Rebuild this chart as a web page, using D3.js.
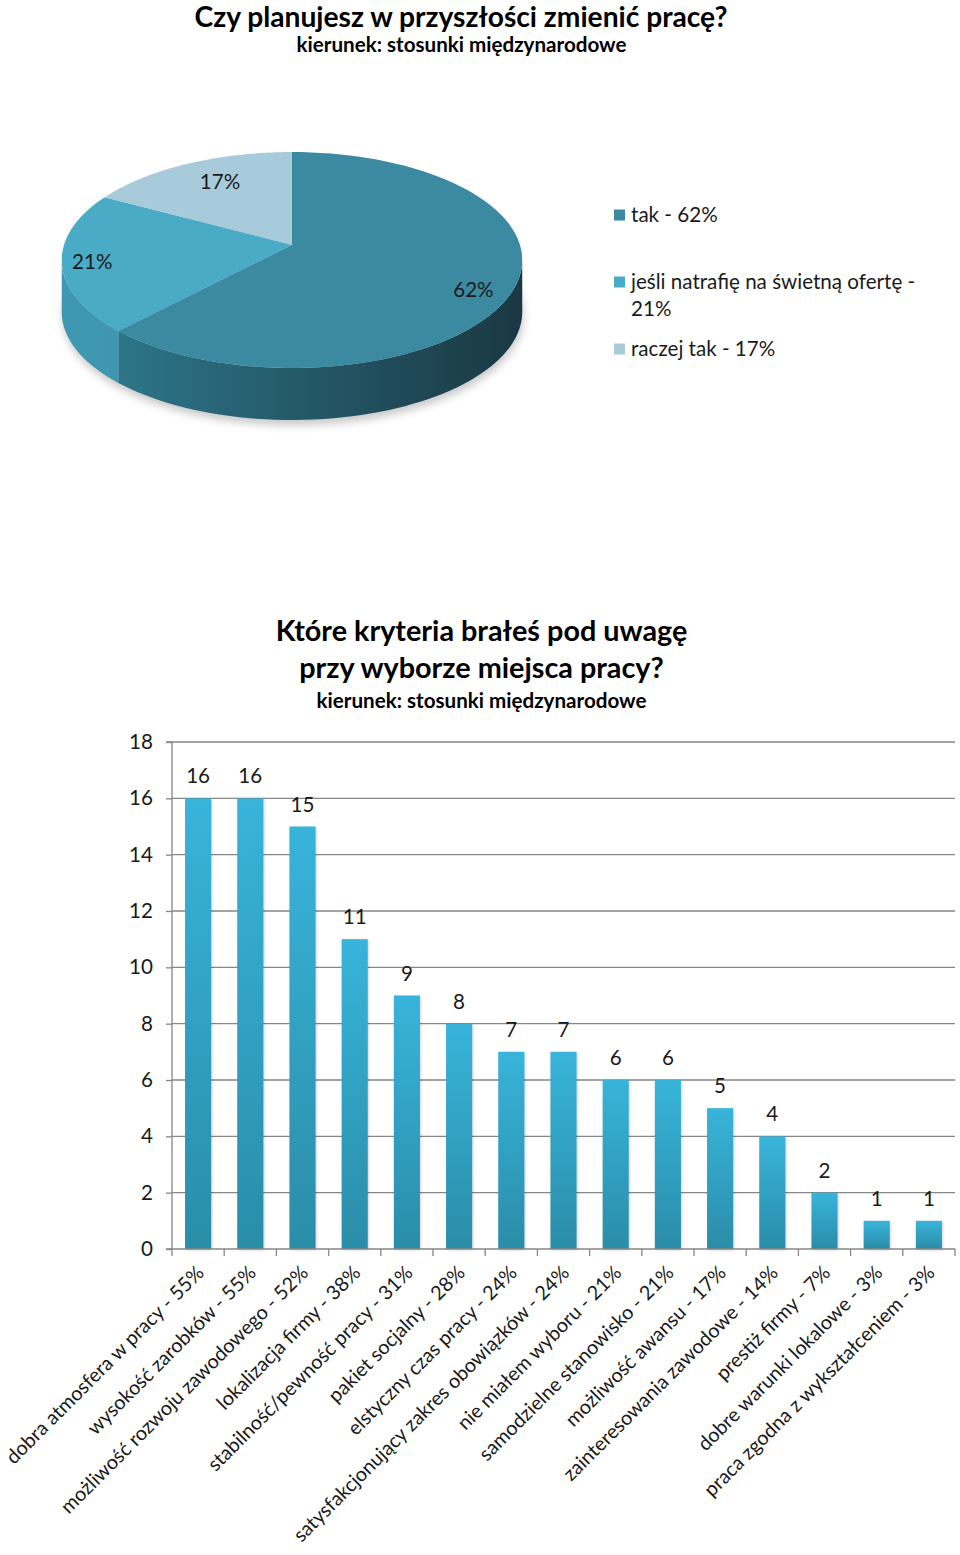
<!DOCTYPE html>
<html><head><meta charset="utf-8">
<script src="https://cdn.jsdelivr.net/npm/d3@7/dist/d3.min.js"></script>
<style>
html,body{margin:0;padding:0;background:#fff;}
svg{display:block;font-family:Lato,"Noto Sans",sans-serif;}
</style></head>
<body>
<svg id="c" width="960" height="1555"></svg>
<script>
// ---------- data ----------
const pieTitle = "Czy planujesz w przyszłości zmienić pracę?";
const subTitle = "kierunek: stosunki międzynarodowe";
const pieLabels = ["tak", "jeśli natrafię na świetną ofertę", "raczej tak"];
const pieValues = [62, 21, 17];

const barTitle = ["Które kryteria brałeś pod uwagę", "przy wyborze miejsca pracy?"];
const barCategories = [
  "dobra atmosfera w pracy - 55%",
  "wysokość zarobków - 55%",
  "możliwość rozwoju zawodowego - 52%",
  "lokalizacja firmy - 38%",
  "stabilność/pewność pracy - 31%",
  "pakiet socjalny - 28%",
  "elstyczny czas pracy - 24%",
  "satysfakcjonujący zakres obowiązków - 24%",
  "nie miałem wyboru - 21%",
  "samodzielne stanowisko - 21%",
  "możliwość awansu - 17%",
  "zainteresowania zawodowe - 14%",
  "prestiż firmy - 7%",
  "dobre warunki lokalowe - 3%",
  "praca zgodna z wykształceniem - 3%"
];
const barValues = [16, 16, 15, 11, 9, 8, 7, 7, 6, 6, 5, 4, 2, 1, 1];
const yTicks = [0, 2, 4, 6, 8, 10, 12, 14, 16, 18];

// ---------- setup ----------
const svg = d3.select("#c");
const defs = svg.append("defs");
const FS = 20.6;

// titles
svg.append("text").attr("x", 461).attr("y", 27).attr("text-anchor", "middle")
  .attr("font-size", 28.2).attr("font-weight", 700).attr("fill", "#000").text(pieTitle);
svg.append("text").attr("x", 461.5).attr("y", 52).attr("text-anchor", "middle")
  .attr("font-size", FS).attr("font-weight", 700).attr("fill", "#000").text(subTitle);

// ---------- 3D pie ----------
const topColors = ["#3b8aa1", "#4aabc7", "#a7cbdb"];
const sideLeft  = ["#2f7d92", "#3f98b1", "#8fb8c8"];
const sideRight = ["#1a3843", "#3a8aa2", "#7fa7b7"];
const cx = 292, cy = 245, A = 228, B = 105.9, K = 0.139, depth = 52;

function proj(theta, f) { // theta clockwise from 12 o'clock, radians
  const u = Math.sin(theta) * f, v = -Math.cos(theta) * f;
  const d = 1 - K * v;
  return [cx + A * u / d, cy + B * v / d];
}
const pie = d3.pie().sort(null).value(d => d)(pieValues);

// shadow
const sh = defs.append("filter").attr("id", "shadow").attr("x", "-20%").attr("y", "-20%").attr("width", "140%").attr("height", "160%");
sh.append("feGaussianBlur").attr("stdDeviation", 4);
const gPie = svg.append("g");
(function(){
  const pts = [];
  for (let t = 0; t <= 360; t += 2) {
    const p = proj(t * Math.PI / 180, 1);
    const vis = t >= 98 && t <= 262;
    pts.push([p[0], p[1] + (vis ? depth + 3 : depth)]);
  }
  gPie.append("path").attr("d", d3.line()(pts) + "Z").attr("fill", "#9a9a9a").attr("opacity", 0.55)
    .attr("filter", "url(#shadow)").attr("transform", "translate(1,2)");
})();

const visA = 98 * Math.PI / 180, visB = 262 * Math.PI / 180;
pie.forEach((s, i) => {
  const a0 = Math.max(s.startAngle, visA), a1 = Math.min(s.endAngle, visB);
  if (a1 <= a0) return;
  const gid = "side" + i;
  const lg = defs.append("linearGradient").attr("id", gid).attr("gradientUnits", "userSpaceOnUse")
    .attr("x1", cx - A).attr("x2", cx + A).attr("y1", 0).attr("y2", 0);
  lg.append("stop").attr("offset", 0).attr("stop-color", sideLeft[i]);
  lg.append("stop").attr("offset", 1).attr("stop-color", sideRight[i]);
  const top = [], bot = [];
  const n = 60;
  for (let k = 0; k <= n; k++) {
    const t = a0 + (a1 - a0) * k / n;
    const p = proj(t, 1);
    top.push(p); bot.push([p[0], p[1] + depth]);
  }
  gPie.append("path").attr("d", d3.line()(top.concat(bot.reverse())) + "Z")
    .attr("fill", `url(#${gid})`);
});
pie.forEach((s, i) => {
  const pts = [[cx, cy]];
  const n = 80;
  for (let k = 0; k <= n; k++) pts.push(proj(s.startAngle + (s.endAngle - s.startAngle) * k / n, 1));
  gPie.append("path").attr("d", d3.line()(pts) + "Z").attr("fill", topColors[i]);
});
// labels
const labelF = [0.82, 0.87, 0.67];
const labelDy = [12, 2, -6];
pie.forEach((s, i) => {
  const p = proj((s.startAngle + s.endAngle) / 2, labelF[i]);
  gPie.append("text").attr("x", p[0]).attr("y", p[1] + labelDy[i] + 7).attr("text-anchor", "middle")
    .attr("font-size", FS).attr("fill", "#1a1a1a").text(pieValues[i] + "%");
});

// legend
const legRows = [
  { lines: [pieLabels[0] + " - " + pieValues[0] + "%"], y: 215 },
  { lines: [pieLabels[1] + " -", pieValues[1] + "%"], y: 282 },
  { lines: [pieLabels[2] + " - " + pieValues[2] + "%"], y: 349 }
];
legRows.forEach((r, i) => {
  svg.append("rect").attr("x", 614).attr("y", r.y - 5.5).attr("width", 11).attr("height", 11).attr("fill", topColors[i]);
  r.lines.forEach((l, j) => {
    svg.append("text").attr("x", 631).attr("y", r.y + 7 + j * 27).attr("font-size", FS).attr("fill", "#1a1a1a").text(l);
  });
});

// ---------- bar chart ----------
barTitle.forEach((t, i) => {
  svg.append("text").attr("x", 481.5).attr("y", 641 + i * 37).attr("text-anchor", "middle")
    .attr("font-size", 28.8).attr("font-weight", 700).attr("fill", "#000").text(t);
});
svg.append("text").attr("x", 481.5).attr("y", 708).attr("text-anchor", "middle")
  .attr("font-size", FS).attr("font-weight", 700).attr("fill", "#000").text(subTitle);

const x = d3.scaleBand().domain(barCategories).range([172, 955]).paddingInner(0.5).paddingOuter(0.25);
const y = d3.scaleLinear().domain([0, 18]).range([1249, 742]);
const gridColor = "#868686";

const gBar = svg.append("g");
gBar.selectAll(".grid").data(yTicks.filter(d => d > 0)).join("line")
  .attr("x1", 172).attr("x2", 955).attr("y1", d => y(d)).attr("y2", d => y(d))
  .attr("stroke", gridColor).attr("stroke-width", 1.3);
const yAxis = d3.axisLeft(y).tickValues(yTicks).tickSize(6).tickPadding(13);
const gy = gBar.append("g").attr("transform", "translate(172,0)").call(yAxis);
gy.select(".domain").attr("stroke", gridColor).attr("stroke-width", 1.3).attr("d", `M-6,${y(18)}H0V${y(0)}H-6`);
gy.selectAll(".tick line").attr("stroke", gridColor).attr("stroke-width", 1.3);
gy.selectAll(".tick text").attr("font-size", FS).attr("font-family", "Lato").attr("fill", "#1a1a1a");

const bg = defs.append("linearGradient").attr("id", "barg").attr("x1", 0).attr("x2", 0).attr("y1", 0).attr("y2", 1);
bg.append("stop").attr("offset", 0).attr("stop-color", "#38b4da");
bg.append("stop").attr("offset", 1).attr("stop-color", "#2a8da8");
const bsh = defs.append("filter").attr("id", "bsh").attr("x", "-30%").attr("y", "-10%").attr("width", "160%").attr("height", "120%");
bsh.append("feGaussianBlur").attr("stdDeviation", 1.5);

gBar.selectAll(".bshadow").data(barValues).join("rect")
  .attr("x", (d, i) => x(barCategories[i]) + 1).attr("y", d => y(d) + 1)
  .attr("width", x.bandwidth()).attr("height", d => y(0) - y(d))
  .attr("fill", "#000").attr("opacity", 0.18).attr("filter", "url(#bsh)");
gBar.selectAll(".bar").data(barValues).join("rect")
  .attr("x", (d, i) => x(barCategories[i])).attr("y", d => y(d))
  .attr("width", x.bandwidth()).attr("height", d => y(0) - y(d))
  .attr("fill", "url(#barg)");

gBar.selectAll(".val").data(barValues).join("text")
  .attr("x", (d, i) => x(barCategories[i]) + x.bandwidth() / 2).attr("y", d => y(d) - 15)
  .attr("text-anchor", "middle").attr("font-size", FS).attr("fill", "#1a1a1a").text(d => d);

const step = x.step();
const tickPos = d3.range(barCategories.length + 1).map(i => 172 + i * step);
gBar.append("line").attr("x1", 172).attr("x2", 955).attr("y1", y(0)).attr("y2", y(0))
  .attr("stroke", gridColor).attr("stroke-width", 1.3);
gBar.selectAll(".xt").data(tickPos).join("line")
  .attr("x1", d => d).attr("x2", d => d).attr("y1", y(0)).attr("y2", y(0) + 7)
  .attr("stroke", gridColor).attr("stroke-width", 1.3);
gBar.selectAll(".xl").data(barCategories).join("text")
  .attr("transform", d => `translate(${x(d) + x.bandwidth() / 2 + 7},${y(0) + 25}) rotate(-45)`)
  .attr("text-anchor", "end").attr("font-size", 19.8).attr("fill", "#1a1a1a").text(d => d);
</script>
</body></html>
